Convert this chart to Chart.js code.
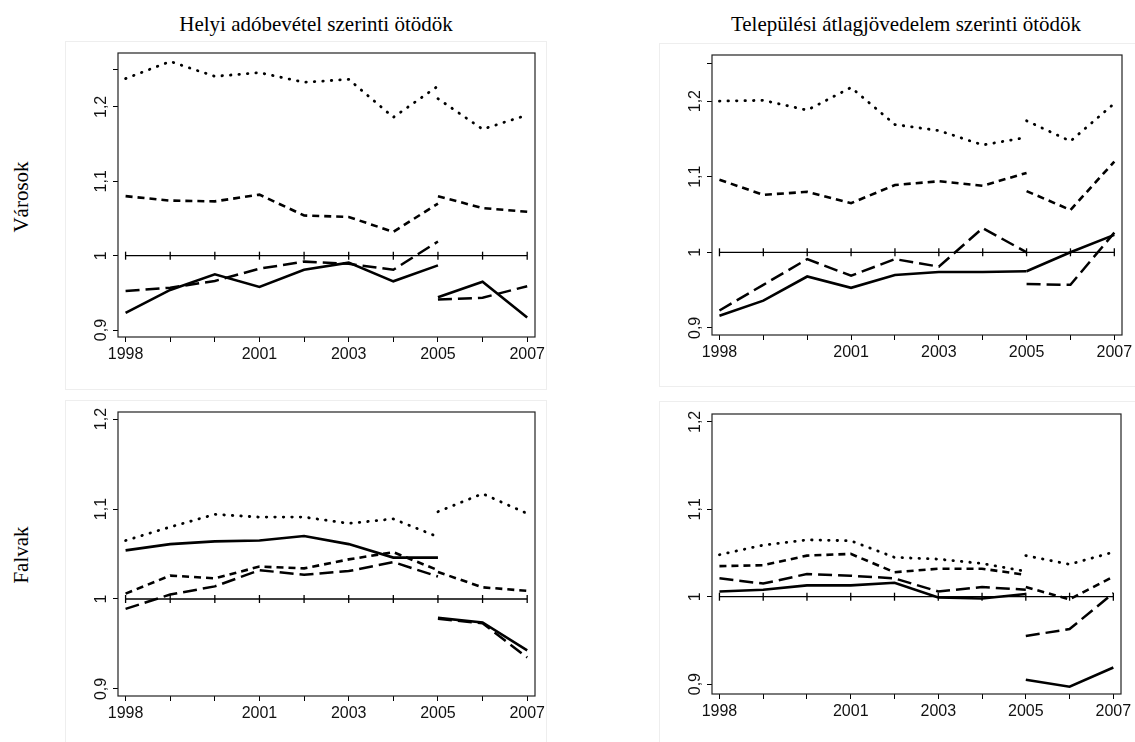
<!DOCTYPE html>
<html>
<head>
<meta charset="utf-8">
<script src="https://cdn.jsdelivr.net/npm/chart.js@4.4.1/dist/chart.umd.min.js"></script>
<style>
  body { margin: 0; background: #fff; width: 1135px; height: 742px; position: relative; overflow: hidden; }
  canvas { position: absolute; }
  .frame { position: absolute; border: 1px solid #eeeeee; box-sizing: border-box; }
  .title { position: absolute; font-family: "Liberation Serif", serif; font-size: 21px; line-height: 21px; white-space: nowrap; color: #000; transform: translateX(-50%); }
  .rowlabel { position: absolute; font-family: "Liberation Serif", serif; font-size: 21px; line-height: 21px; width: 200px; text-align: center; color: #000; transform: translate(-50%, -50%) rotate(-90deg); }
</style>
</head>
<body>
<div class="frame" style="left:65px;top:41px;width:482px;height:349px"></div>
<div class="frame" style="left:659px;top:43px;width:480px;height:344px"></div>
<div class="frame" style="left:65px;top:400px;width:482px;height:350px"></div>
<div class="frame" style="left:659px;top:401px;width:480px;height:350px"></div>

<div class="title" style="left:316px;top:14px">Helyi adóbevétel szerinti ötödök</div>
<div class="title" style="left:906px;top:14px">Települési átlagjövedelem szerinti ötödök</div>
<div class="rowlabel" style="left:21px;top:197px">Városok</div>
<div class="rowlabel" style="left:21px;top:555px">Falvak</div>

<canvas id="chartVAdo"></canvas>
<canvas id="chartVJov"></canvas>
<canvas id="chartFAdo"></canvas>
<canvas id="chartFJov"></canvas>

<script>
// years before and after the 2005 break
const yearsA = [1998, 1999, 2000, 2001, 2002, 2003, 2004, 2005];
const yearsB = [2005, 2006, 2007];
const allYears = [1998, 1999, 2000, 2001, 2002, 2003, 2004, 2005, 2006, 2007];
const yearLabels = [1998, 2001, 2003, 2005, 2007];
const yTicksTop = [0.9, 1, 1.1, 1.2, 1.25];
const yTicksBottom = [0.9, 1, 1.1, 1.2];
const refLevel = 1;

// Városok - helyi adóbevétel
const vAdoDotted = [1.238, 1.261, 1.241, 1.246, 1.233, 1.237, 1.186, 1.228];
const vAdoDotted2 = [1.211, 1.170, 1.189];
const vAdoShort = [1.080, 1.074, 1.073, 1.082, 1.054, 1.052, 1.032, 1.070];
const vAdoShort2 = [1.080, 1.064, 1.059];
const vAdoLong = [0.9525, 0.957, 0.966, 0.9825, 0.992, 0.989, 0.981, 1.019];
const vAdoLong2 = [0.941, 0.9435, 0.959];
const vAdoSolid = [0.923, 0.954, 0.975, 0.958, 0.981, 0.9906, 0.9655, 0.987];
const vAdoSolid2 = [0.944, 0.965, 0.917];

// Városok - települési átlagjövedelem
const vJovDotted = [1.200, 1.201, 1.188, 1.218, 1.169, 1.161, 1.142, 1.152];
const vJovDotted2 = [1.174, 1.147, 1.197];
const vJovShort = [1.096, 1.076, 1.080, 1.065, 1.089, 1.094, 1.088, 1.105];
const vJovShort2 = [1.081, 1.056, 1.120];
const vJovLong = [0.923, 0.957, 0.991, 0.969, 0.991, 0.981, 1.032, 1.000];
const vJovLong2 = [0.958, 0.957, 1.026];
const vJovSolid = [0.916, 0.936, 0.968, 0.953, 0.970, 0.974, 0.974, 0.975];
const vJovSolid2 = [0.975, 1.000, 1.023];

// Falvak - helyi adóbevétel
const fAdoDotted = [1.065, 1.080, 1.094, 1.091, 1.091, 1.084, 1.089, 1.069];
const fAdoDotted2 = [1.097, 1.117, 1.095];
const fAdoShort = [1.006, 1.026, 1.023, 1.036, 1.034, 1.044, 1.052, 1.032];
const fAdoShort2 = [1.030, 1.013, 1.009];
const fAdoLong = [0.989, 1.005, 1.014, 1.032, 1.027, 1.031, 1.041, 1.025];
const fAdoLong2 = [0.978, 0.973, 0.935];
const fAdoSolid = [1.054, 1.061, 1.064, 1.065, 1.070, 1.061, 1.046, 1.046];
const fAdoSolid2 = [0.979, 0.974, 0.943];

// Falvak - települési átlagjövedelem
const fJovDotted = [1.048, 1.059, 1.065, 1.064, 1.045, 1.043, 1.038, 1.029];
const fJovDotted2 = [1.047, 1.037, 1.051];
const fJovShort = [1.035, 1.036, 1.047, 1.049, 1.028, 1.032, 1.032, 1.025];
const fJovShort2 = [1.011, 0.997, 1.023];
const fJovLong = [1.021, 1.015, 1.026, 1.024, 1.021, 1.006, 1.011, 1.008];
const fJovLong2 = [0.955, 0.963, 1.004];
const fJovSolid = [1.006, 1.008, 1.013, 1.013, 1.016, 0.999, 0.998, 1.003];
const fJovSolid2 = [0.905, 0.897, 0.919];

const LINE_STYLES = {
    dotted: { borderDash: [0.5, 8], borderWidth: 2.8, borderCapStyle: 'round' },
    short: { borderDash: [7, 5], borderWidth: 2.6, borderCapStyle: 'butt' },
    long: { borderDash: [14, 6], borderWidth: 2.5, borderCapStyle: 'butt' },
    solid: { borderDash: [], borderWidth: 2.6, borderCapStyle: 'butt' }
};

function line(years, values, style) {
    return {
        data: years.map((x, i) => ({ x, y: values[i] })),
        borderColor: '#000',
        pointRadius: 0,
        tension: 0,
        fill: false,
        ...LINE_STYLES[style]
    };
}

// a series drawn in two pieces, broken at 2005
function broken(valuesA, valuesB, style) {
    return [line(yearsA, valuesA, style), line(yearsB, valuesB, style)];
}

function refLine() {
    return {
        data: allYears.map(x => ({ x, y: refLevel })),
        borderColor: '#000',
        borderWidth: 1.3,
        pointStyle: 'line',
        rotation: 90,
        pointRadius: 4,
        pointBorderWidth: 1.3,
        pointBorderColor: '#000',
        tension: 0
    };
}

function fmtTick(v) {
    if (v === 1.25) return '';
    return v === 1 ? '1' : v.toFixed(1).replace('.', ',');
}

// draws the box round the plot area
const boxPlugin = {
    id: 'box',
    afterDraw(chart) {
        const { ctx, chartArea: a } = chart;
        ctx.save();
        ctx.strokeStyle = '#222';
        ctx.lineWidth = 1.2;
        ctx.strokeRect(a.left, a.top, a.right - a.left, a.bottom - a.top);
        ctx.restore();
    }
};

const PAD_LEFT = 60, PAD_TOP = 20, PAD_RIGHT = 20, PAD_BOTTOM = 35;

function makePanel(id, box, yMin, yMax, yTicks, datasets) {
    const canvas = document.getElementById(id);
    canvas.width = box.right - box.left + PAD_LEFT + PAD_RIGHT;
    canvas.height = box.bottom - box.top + PAD_TOP + PAD_BOTTOM;
    canvas.style.left = (box.left - PAD_LEFT) + 'px';
    canvas.style.top = (box.top - PAD_TOP) + 'px';

    const tickFont = { family: '"Liberation Sans", Arial, sans-serif', size: 16 };

    return new Chart(canvas, {
        type: 'line',
        data: { datasets: [refLine(), ...datasets] },
        options: {
            responsive: false,
            animation: false,
            devicePixelRatio: 1,
            layout: { padding: { left: 0, top: PAD_TOP, right: PAD_RIGHT, bottom: 0 } },
            plugins: { legend: { display: false }, tooltip: { enabled: false } },
            scales: {
                x: {
                    type: 'linear',
                    min: 1997.83,
                    max: 2007.175,
                    afterBuildTicks: s => { s.ticks = allYears.map(v => ({ value: v })); },
                    afterFit: s => { s.height = PAD_BOTTOM; },
                    border: { display: false },
                    grid: { drawOnChartArea: false, drawTicks: true, tickLength: 5, tickColor: '#000', tickWidth: 1 },
                    ticks: {
                        font: tickFont,
                        color: '#111',
                        padding: 3,
                        maxRotation: 0,
                        autoSkip: false,
                        callback: v => yearLabels.includes(v) ? String(v) : ''
                    }
                },
                y: {
                    min: yMin,
                    max: yMax,
                    afterBuildTicks: s => { s.ticks = yTicks.map(v => ({ value: v })); },
                    afterFit: s => { s.width = PAD_LEFT; },
                    border: { display: false },
                    grid: { drawOnChartArea: false, drawTicks: true, tickLength: 5, tickColor: '#000', tickWidth: 1 },
                    ticks: {
                        font: tickFont,
                        color: '#111',
                        padding: 0,
                        minRotation: 90,
                        maxRotation: 90,
                        crossAlign: 'center',
                        autoSkip: false,
                        callback: v => fmtTick(v)
                    }
                }
            }
        },
        plugins: [boxPlugin]
    });
}

makePanel('chartVAdo', { left: 118, top: 53, right: 535, bottom: 337 }, 0.8907, 1.2724, yTicksTop, [
    ...broken(vAdoDotted, vAdoDotted2, 'dotted'),
    ...broken(vAdoShort, vAdoShort2, 'short'),
    ...broken(vAdoLong, vAdoLong2, 'long'),
    ...broken(vAdoSolid, vAdoSolid2, 'solid')
]);

makePanel('chartVJov', { left: 712, top: 55, right: 1122, bottom: 335 }, 0.8906, 1.261, yTicksTop, [
    ...broken(vJovDotted, vJovDotted2, 'dotted'),
    ...broken(vJovShort, vJovShort2, 'short'),
    ...broken(vJovLong, vJovLong2, 'long'),
    ...broken(vJovSolid, vJovSolid2, 'solid')
]);

makePanel('chartFAdo', { left: 118, top: 412, right: 535, bottom: 696 }, 0.8922, 1.2078, yTicksBottom, [
    ...broken(fAdoDotted, fAdoDotted2, 'dotted'),
    ...broken(fAdoShort, fAdoShort2, 'short'),
    ...broken(fAdoLong, fAdoLong2, 'long'),
    ...broken(fAdoSolid, fAdoSolid2, 'solid')
]);

makePanel('chartFJov', { left: 712, top: 414, right: 1121, bottom: 694 }, 0.8887, 1.209, yTicksBottom, [
    ...broken(fJovDotted, fJovDotted2, 'dotted'),
    ...broken(fJovShort, fJovShort2, 'short'),
    ...broken(fJovLong, fJovLong2, 'long'),
    ...broken(fJovSolid, fJovSolid2, 'solid')
]);
</script>
</body>
</html>
